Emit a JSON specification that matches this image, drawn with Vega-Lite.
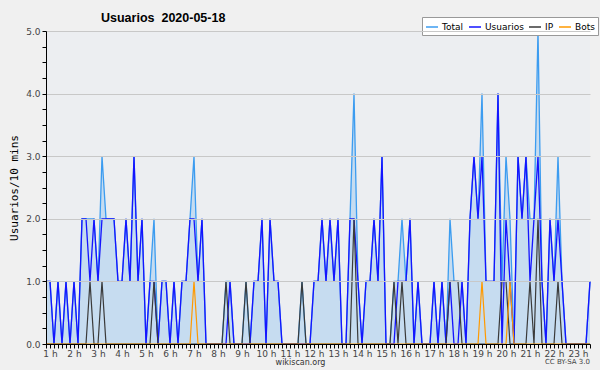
{
"$schema":"https://vega.github.io/schema/vega-lite/v6.json",
"width":544,"height":313,
"autosize":{"type":"none"},
"padding":{"left":46,"top":31,"right":10,"bottom":26},
"background":"#f0f0f0",
"title":{"text":"Usuarios\u00a0 2020-05-18","anchor":"start","frame":"group","dx":55,"dy":18,"fontSize":12.5,"font":"Liberation Sans","fontWeight":"bold","color":"#000","offset":0,"baseline":"alphabetic"},
"config":{"view":{"fill":"#eceef1","stroke":null}},
"data":{"values":[
{"m":50,"Total":1,"Usuarios":1,"IP":0,"Bots":0},
{"m":60,"Total":1,"Usuarios":1,"IP":0,"Bots":0},
{"m":70,"Total":0,"Usuarios":0,"IP":0,"Bots":0},
{"m":80,"Total":1,"Usuarios":1,"IP":0,"Bots":0},
{"m":90,"Total":0,"Usuarios":0,"IP":0,"Bots":0},
{"m":100,"Total":1,"Usuarios":1,"IP":0,"Bots":0},
{"m":110,"Total":0,"Usuarios":0,"IP":0,"Bots":0},
{"m":120,"Total":1,"Usuarios":1,"IP":0,"Bots":0},
{"m":130,"Total":0,"Usuarios":0,"IP":0,"Bots":0},
{"m":140,"Total":2,"Usuarios":2,"IP":0,"Bots":0},
{"m":150,"Total":2,"Usuarios":2,"IP":0,"Bots":0},
{"m":160,"Total":2,"Usuarios":1,"IP":1,"Bots":0},
{"m":170,"Total":2,"Usuarios":2,"IP":0,"Bots":0},
{"m":180,"Total":1,"Usuarios":1,"IP":0,"Bots":0},
{"m":190,"Total":3,"Usuarios":2,"IP":1,"Bots":0},
{"m":200,"Total":2,"Usuarios":2,"IP":0,"Bots":0},
{"m":210,"Total":2,"Usuarios":2,"IP":0,"Bots":0},
{"m":220,"Total":2,"Usuarios":2,"IP":0,"Bots":0},
{"m":230,"Total":1,"Usuarios":1,"IP":0,"Bots":0},
{"m":240,"Total":1,"Usuarios":1,"IP":0,"Bots":0},
{"m":250,"Total":2,"Usuarios":2,"IP":0,"Bots":0},
{"m":260,"Total":1,"Usuarios":1,"IP":0,"Bots":0},
{"m":270,"Total":3,"Usuarios":3,"IP":0,"Bots":0},
{"m":280,"Total":1,"Usuarios":1,"IP":0,"Bots":0},
{"m":290,"Total":2,"Usuarios":2,"IP":0,"Bots":0},
{"m":300,"Total":0,"Usuarios":0,"IP":0,"Bots":0},
{"m":310,"Total":1,"Usuarios":1,"IP":0,"Bots":0},
{"m":320,"Total":2,"Usuarios":1,"IP":1,"Bots":0},
{"m":330,"Total":0,"Usuarios":0,"IP":0,"Bots":0},
{"m":340,"Total":1,"Usuarios":1,"IP":0,"Bots":0},
{"m":350,"Total":1,"Usuarios":1,"IP":0,"Bots":0},
{"m":360,"Total":0,"Usuarios":0,"IP":0,"Bots":0},
{"m":370,"Total":1,"Usuarios":1,"IP":0,"Bots":0},
{"m":380,"Total":0,"Usuarios":0,"IP":0,"Bots":0},
{"m":390,"Total":1,"Usuarios":1,"IP":0,"Bots":0},
{"m":400,"Total":1,"Usuarios":1,"IP":0,"Bots":0},
{"m":410,"Total":2,"Usuarios":2,"IP":0,"Bots":0},
{"m":420,"Total":3,"Usuarios":2,"IP":0,"Bots":1},
{"m":430,"Total":1,"Usuarios":1,"IP":0,"Bots":0},
{"m":440,"Total":2,"Usuarios":2,"IP":0,"Bots":0},
{"m":450,"Total":0,"Usuarios":0,"IP":0,"Bots":0},
{"m":460,"Total":0,"Usuarios":0,"IP":0,"Bots":0},
{"m":470,"Total":0,"Usuarios":0,"IP":0,"Bots":0},
{"m":480,"Total":0,"Usuarios":0,"IP":0,"Bots":0},
{"m":490,"Total":0,"Usuarios":0,"IP":0,"Bots":0},
{"m":500,"Total":1,"Usuarios":0,"IP":1,"Bots":0},
{"m":510,"Total":1,"Usuarios":1,"IP":0,"Bots":0},
{"m":520,"Total":0,"Usuarios":0,"IP":0,"Bots":0},
{"m":530,"Total":0,"Usuarios":0,"IP":0,"Bots":0},
{"m":540,"Total":0,"Usuarios":0,"IP":0,"Bots":0},
{"m":550,"Total":1,"Usuarios":0,"IP":1,"Bots":0},
{"m":560,"Total":0,"Usuarios":0,"IP":0,"Bots":0},
{"m":570,"Total":1,"Usuarios":1,"IP":0,"Bots":0},
{"m":580,"Total":1,"Usuarios":1,"IP":0,"Bots":0},
{"m":590,"Total":2,"Usuarios":2,"IP":0,"Bots":0},
{"m":600,"Total":0,"Usuarios":0,"IP":0,"Bots":0},
{"m":610,"Total":2,"Usuarios":2,"IP":0,"Bots":0},
{"m":620,"Total":1,"Usuarios":1,"IP":0,"Bots":0},
{"m":630,"Total":1,"Usuarios":1,"IP":0,"Bots":0},
{"m":640,"Total":0,"Usuarios":0,"IP":0,"Bots":0},
{"m":650,"Total":0,"Usuarios":0,"IP":0,"Bots":0},
{"m":660,"Total":0,"Usuarios":0,"IP":0,"Bots":0},
{"m":670,"Total":0,"Usuarios":0,"IP":0,"Bots":0},
{"m":680,"Total":0,"Usuarios":0,"IP":0,"Bots":0},
{"m":690,"Total":1,"Usuarios":0,"IP":1,"Bots":0},
{"m":700,"Total":0,"Usuarios":0,"IP":0,"Bots":0},
{"m":710,"Total":0,"Usuarios":0,"IP":0,"Bots":0},
{"m":720,"Total":1,"Usuarios":1,"IP":0,"Bots":0},
{"m":730,"Total":1,"Usuarios":1,"IP":0,"Bots":0},
{"m":740,"Total":2,"Usuarios":2,"IP":0,"Bots":0},
{"m":750,"Total":1,"Usuarios":1,"IP":0,"Bots":0},
{"m":760,"Total":2,"Usuarios":2,"IP":0,"Bots":0},
{"m":770,"Total":1,"Usuarios":1,"IP":0,"Bots":0},
{"m":780,"Total":2,"Usuarios":2,"IP":0,"Bots":0},
{"m":790,"Total":0,"Usuarios":0,"IP":0,"Bots":0},
{"m":800,"Total":0,"Usuarios":0,"IP":0,"Bots":0},
{"m":810,"Total":2,"Usuarios":2,"IP":0,"Bots":0},
{"m":820,"Total":4,"Usuarios":2,"IP":2,"Bots":0},
{"m":830,"Total":1,"Usuarios":1,"IP":0,"Bots":0},
{"m":840,"Total":0,"Usuarios":0,"IP":0,"Bots":0},
{"m":850,"Total":1,"Usuarios":1,"IP":0,"Bots":0},
{"m":860,"Total":1,"Usuarios":1,"IP":0,"Bots":0},
{"m":870,"Total":2,"Usuarios":2,"IP":0,"Bots":0},
{"m":880,"Total":1,"Usuarios":1,"IP":0,"Bots":0},
{"m":890,"Total":3,"Usuarios":3,"IP":0,"Bots":0},
{"m":900,"Total":0,"Usuarios":0,"IP":0,"Bots":0},
{"m":910,"Total":0,"Usuarios":0,"IP":0,"Bots":0},
{"m":920,"Total":1,"Usuarios":0,"IP":1,"Bots":0},
{"m":930,"Total":1,"Usuarios":1,"IP":0,"Bots":0},
{"m":940,"Total":2,"Usuarios":1,"IP":1,"Bots":0},
{"m":950,"Total":1,"Usuarios":1,"IP":0,"Bots":0},
{"m":960,"Total":2,"Usuarios":2,"IP":0,"Bots":0},
{"m":970,"Total":0,"Usuarios":0,"IP":0,"Bots":0},
{"m":980,"Total":1,"Usuarios":1,"IP":0,"Bots":0},
{"m":990,"Total":0,"Usuarios":0,"IP":0,"Bots":0},
{"m":1000,"Total":0,"Usuarios":0,"IP":0,"Bots":0},
{"m":1010,"Total":0,"Usuarios":0,"IP":0,"Bots":0},
{"m":1020,"Total":1,"Usuarios":1,"IP":0,"Bots":0},
{"m":1030,"Total":0,"Usuarios":0,"IP":0,"Bots":0},
{"m":1040,"Total":1,"Usuarios":1,"IP":0,"Bots":0},
{"m":1050,"Total":0,"Usuarios":0,"IP":0,"Bots":0},
{"m":1060,"Total":2,"Usuarios":1,"IP":1,"Bots":0},
{"m":1070,"Total":1,"Usuarios":0,"IP":1,"Bots":0},
{"m":1080,"Total":1,"Usuarios":0,"IP":1,"Bots":0},
{"m":1090,"Total":1,"Usuarios":1,"IP":0,"Bots":0},
{"m":1100,"Total":0,"Usuarios":0,"IP":0,"Bots":0},
{"m":1110,"Total":2,"Usuarios":2,"IP":0,"Bots":0},
{"m":1120,"Total":3,"Usuarios":3,"IP":0,"Bots":0},
{"m":1130,"Total":2,"Usuarios":2,"IP":0,"Bots":0},
{"m":1140,"Total":4,"Usuarios":3,"IP":0,"Bots":1},
{"m":1150,"Total":1,"Usuarios":1,"IP":0,"Bots":0},
{"m":1160,"Total":1,"Usuarios":1,"IP":0,"Bots":0},
{"m":1170,"Total":1,"Usuarios":1,"IP":0,"Bots":0},
{"m":1180,"Total":4,"Usuarios":4,"IP":0,"Bots":0},
{"m":1190,"Total":1,"Usuarios":0,"IP":1,"Bots":0},
{"m":1200,"Total":3,"Usuarios":2,"IP":1,"Bots":0},
{"m":1210,"Total":2,"Usuarios":1,"IP":0,"Bots":1},
{"m":1220,"Total":0,"Usuarios":0,"IP":0,"Bots":0},
{"m":1230,"Total":3,"Usuarios":3,"IP":0,"Bots":0},
{"m":1240,"Total":2,"Usuarios":2,"IP":0,"Bots":0},
{"m":1250,"Total":3,"Usuarios":3,"IP":0,"Bots":0},
{"m":1260,"Total":2,"Usuarios":1,"IP":1,"Bots":0},
{"m":1270,"Total":2,"Usuarios":2,"IP":0,"Bots":0},
{"m":1280,"Total":5,"Usuarios":3,"IP":2,"Bots":0},
{"m":1290,"Total":1,"Usuarios":1,"IP":0,"Bots":0},
{"m":1300,"Total":0,"Usuarios":0,"IP":0,"Bots":0},
{"m":1310,"Total":2,"Usuarios":2,"IP":0,"Bots":0},
{"m":1320,"Total":1,"Usuarios":1,"IP":0,"Bots":0},
{"m":1330,"Total":3,"Usuarios":2,"IP":1,"Bots":0},
{"m":1340,"Total":1,"Usuarios":1,"IP":0,"Bots":0},
{"m":1350,"Total":0,"Usuarios":0,"IP":0,"Bots":0},
{"m":1360,"Total":0,"Usuarios":0,"IP":0,"Bots":0},
{"m":1370,"Total":0,"Usuarios":0,"IP":0,"Bots":0},
{"m":1380,"Total":0,"Usuarios":0,"IP":0,"Bots":0},
{"m":1390,"Total":0,"Usuarios":0,"IP":0,"Bots":0},
{"m":1400,"Total":0,"Usuarios":0,"IP":0,"Bots":0},
{"m":1410,"Total":1,"Usuarios":1,"IP":0,"Bots":0}
]},
"layer":[
{"mark":{"type":"area","color":"#c6dcf0","opacity":1},
 "encoding":{"x":{"field":"m","type":"quantitative","scale":{"domain":[50,1410],"nice":false,"zero":false},"title":"wikiscan.org",
  "axis":{"values":[50,60,70,80,90,100,110,120,130,140,150,160,170,180,190,200,210,220,230,240,250,260,270,280,290,300,310,320,330,340,350,360,370,380,390,400,410,420,430,440,450,460,470,480,490,500,510,520,530,540,550,560,570,580,590,600,610,620,630,640,650,660,670,680,690,700,710,720,730,740,750,760,770,780,790,800,810,820,830,840,850,860,870,880,890,900,910,920,930,940,950,960,970,980,990,1000,1010,1020,1030,1040,1050,1060,1070,1080,1090,1100,1110,1120,1130,1140,1150,1160,1170,1180,1190,1200,1210,1220,1230,1240,1250,1260,1270,1280,1290,1300,1310,1320,1330,1340,1350,1360,1370,1380,1390,1400,1410],
  "tickCount":1000,
  "labelExpr":"datum.value % 60 === 0 ? (datum.value/60) + ' h' : ''","labelOverlap":false,"labelFlush":false,"labelBound":false,"grid":false,"zindex":1,"domainColor":"#000","tickColor":"#000","tickSize":4,"labelFont":"DejaVu Sans","labelFontSize":9,"labelColor":"#444","labelPadding":1,
  "titleFont":"DejaVu Sans","titleFontSize":8,"titleFontWeight":"normal","titleColor":"#333","titleX":254,"titleY":22,"titleAlign":"center","titleBaseline":"bottom"}},
 "y":{"field":"Total","type":"quantitative","scale":{"domain":[0,5],"nice":false},"title":"Usuarios/10 mins",
  "axis":{"values":[0,0.25,0.5,0.75,1,1.25,1.5,1.75,2,2.25,2.5,2.75,3,3.25,3.5,3.75,4,4.25,4.5,4.75,5],
  "tickCount":1000,
  "labelExpr":"datum.value % 1 === 0 ? format(datum.value, '.1f') : ''","labelOverlap":false,"labelFlush":false,"labelBound":false,"grid":true,"gridColor":"#c8c8c8","zindex":1,
  "gridOpacity":{"condition":{"test":"datum.value % 1 === 0","value":1},"value":0},
  "domainColor":"#000","tickColor":"#000","tickSize":4,"labelFont":"DejaVu Sans","labelFontSize":9,"labelColor":"#444","labelPadding":2,
  "titleFont":"DejaVu Sans Mono","titleFontSize":11,"titleFontWeight":"normal","titleColor":"#000","titlePadding":6}}}},
{"mark":{"type":"line","strokeWidth":1.3},
 "encoding":{"x":{"field":"m","type":"quantitative","title":"wikiscan.org"},
 "y":{"field":"Total","type":"quantitative","title":"Usuarios/10 mins"},
 "color":{"datum":"Total","type":"nominal","scale":{"domain":["Total","Usuarios","IP","Bots"],"range":["#3c9cf0","#1414ff","#3a3a3a","#ff9a00"]},
  "legend":{"orient":"none","legendX":376,"legendY":-14,"direction":"horizontal","title":null,"fillColor":"#ffffff","strokeColor":"#999999","padding":3,"symbolType":"stroke","symbolSize":144,"symbolStrokeWidth":1.5,"labelFont":"DejaVu Sans","labelFontSize":9,"labelColor":"#000","columnPadding":2,"labelOffset":3}}}},
{"mark":{"type":"line","strokeWidth":1.3},
 "encoding":{"x":{"field":"m","type":"quantitative","title":"wikiscan.org"},
 "y":{"field":"Usuarios","type":"quantitative","title":"Usuarios/10 mins"},
 "color":{"datum":"Usuarios","type":"nominal"}}},
{"mark":{"type":"line","strokeWidth":1.2},
 "encoding":{"x":{"field":"m","type":"quantitative","title":"wikiscan.org"},
 "y":{"field":"IP","type":"quantitative","title":"Usuarios/10 mins"},
 "color":{"datum":"IP","type":"nominal"}}},
{"mark":{"type":"line","strokeWidth":1.2},
 "encoding":{"x":{"field":"m","type":"quantitative","title":"wikiscan.org"},
 "y":{"field":"Bots","type":"quantitative","title":"Usuarios/10 mins"},
 "color":{"datum":"Bots","type":"nominal"}}},
{"data":{"values":[{"lic":"CC BY-SA 3.0"}]},
 "mark":{"type":"text","align":"right","baseline":"middle","dy":18,"fontSize":7,"font":"DejaVu Sans","color":"#444","clip":false},
 "encoding":{"x":{"datum":1410,"type":"quantitative"},"y":{"datum":0,"type":"quantitative"},"text":{"field":"lic"}}}
]
}
